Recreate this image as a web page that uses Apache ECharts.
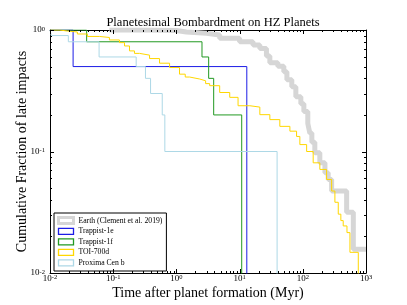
<!DOCTYPE html>
<html><head><meta charset="utf-8">
<script src="https://cdn.jsdelivr.net/npm/echarts@6/dist/echarts.min.js"></script>
<style>html,body{margin:0;padding:0;background:#fff}#c{width:407px;height:305px}</style>
</head><body><div id="c"></div>
<script>
// ---- data ----
const seriesNames = ['Earth (Clement et al. 2019)', 'Trappist-1e', 'Trappist-1f', 'TOI-700d', 'Proxima Cen b'];
const earthT = [0.087, 0.38, 1.0, 1.44, 2.98, 4.84, 10.0, 16.3, 20.9, 26.6, 30.1, 40.3, 50.1, 56.0, 67.0, 77.6, 93.1, 104, 120, 129, 139, 155, 186, 224, 252, 286, 494, 630, 1000];
const earthF = [1.0, 0.99, 0.963, 0.94, 0.91, 0.855, 0.802, 0.754, 0.705, 0.612, 0.537, 0.502, 0.453, 0.389, 0.341, 0.282, 0.247, 0.213, 0.17, 0.142, 0.119, 0.0976, 0.0807, 0.0668, 0.0589, 0.0473, 0.0316, 0.0157, 0.0157];
const t1eT = [0.01, 0.0232, 13.0];
const t1eF = [1.0, 0.5, 0.001];
const t1fT = [0.01, 0.038, 2.54, 3.24, 3.89, 10.8];
const t1fF = [1.0, 0.8, 0.6, 0.4, 0.2, 0.001];
const toiT = [0.01, 0.014, 0.0188, 0.0271, 0.039, 0.0605, 0.0871, 0.1256, 0.151, 0.181, 0.217, 0.261, 0.376, 0.541, 0.78, 1.12, 1.38, 1.62, 2.33, 2.9, 3.36, 4.84, 6.98, 9.45, 14.5, 20.9, 30.1, 43.3, 62.5, 79.7, 89.8, 115, 146, 186, 238, 286, 322, 364, 400, 436, 500, 557, 755];
const toiF = [1.0, 0.981, 0.963, 0.927, 0.885, 0.868, 0.828, 0.787, 0.739, 0.673, 0.642, 0.621, 0.582, 0.533, 0.491, 0.433, 0.41, 0.395, 0.382, 0.362, 0.348, 0.306, 0.279, 0.238, 0.232, 0.201, 0.183, 0.161, 0.147, 0.133, 0.114, 0.1, 0.0807, 0.0712, 0.0589, 0.0473, 0.0382, 0.0305, 0.027, 0.0244, 0.0215, 0.0148, 0.001];
const proxT = [0.01, 0.0105, 0.0195, 0.0598, 0.231, 0.324, 0.39, 0.597, 0.656, 39.2];
const proxF = [1.0, 0.9, 0.8, 0.6, 0.5, 0.4, 0.3, 0.2, 0.1, 0.001];
const xTicks = [0.01, 0.1, 1, 10, 100, 1000];
const yTicks = [0.01, 0.1, 1];
const xTickLabels = ['-2', '-1', '0', '1', '2', '3'];
const yTickLabels = ['-2', '-1', '0'];
const colors = ['#d6d6d6', '#1c1ce6', '#229922', '#ffd700', '#add8e6'];
const widths = [5, 1, 1, 1, 1];

// minor tick values (2..9 per decade)
const mant = [2,3,4,5,6,7,8,9];
const minorX = [], minorY = [];
for (let i = 0; i < xTicks.length - 1; i++) mant.forEach(m => minorX.push(m * xTicks[i]));
for (let i = 0; i < yTicks.length - 1; i++) mant.forEach(m => minorY.push(m * yTicks[i]));

const zip = (a, b) => a.map((v, i) => [v, b[i]]);
const allT = [earthT, t1eT, t1fT, toiT, proxT];
const allF = [earthF, t1eF, t1fF, toiF, proxF];

const FONT = 'Liberation Serif';
function expLabel(list, ticks) {
  return function (v) {
    let idx = 0, best = 1e9;
    ticks.forEach((t, i) => { const d = Math.abs(Math.log10(t) - Math.log10(v)); if (d < best) { best = d; idx = i; } });
    return '{b|10}{s|' + list[idx] + '}';
  };
}
const rich = {
  b: { fontFamily: FONT, fontSize: 9, color: '#000', lineHeight: 9, padding: [5, 0, 0, 0], verticalAlign: 'bottom' },
  s: { fontFamily: FONT, fontSize: 6.5, color: '#000', lineHeight: 7, verticalAlign: 'top' }
};

const chart = echarts.init(document.getElementById('c'), null, { renderer: 'canvas' });

const lineSeries = seriesNames.map((n, i) => ({
  name: n, type: 'line', step: 'end', showSymbol: false, symbol: 'none',
  data: zip(allT[i], allF[i]), clip: true, z: 2 + i,
  lineStyle: { color: colors[i], width: widths[i] },
  itemStyle: { color: colors[i] },
  emphasis: { disabled: true }, animation: false
}));

const tickSeries = {
  type: 'custom', silent: true, z: 20, animation: false, clip: false,
  data: [[1, 0.1]],
  renderItem: function (params, api) {
    const ch = [];
    const bottom = api.coord([1, 0.01])[1], top = api.coord([1, 1])[1];
    const left = api.coord([0.01, 1])[0], right = api.coord([1000, 1])[0];
    const st = { stroke: '#000', lineWidth: 1 };
    const addX = (v, len) => {
      const x = Math.round(api.coord([v, 0.1])[0]) + 0.5;
      ch.push({ type: 'line', shape: { x1: x, y1: bottom, x2: x, y2: bottom - len }, style: st });
      ch.push({ type: 'line', shape: { x1: x, y1: top, x2: x, y2: top + len }, style: st });
    };
    const addY = (v, len) => {
      const y = Math.round(api.coord([1, v])[1]) + 0.5;
      ch.push({ type: 'line', shape: { x1: left, y1: y, x2: left + len, y2: y }, style: st });
      ch.push({ type: 'line', shape: { x1: right, y1: y, x2: right - len, y2: y }, style: st });
    };
    minorX.forEach(v => addX(v, 2));
    minorY.forEach(v => addY(v, 2));
    xTicks.forEach(v => addX(v, 4));
    yTicks.forEach(v => addY(v, 4));
    return { type: 'group', children: ch };
  }
};

const option = {
  animation: false,
  backgroundColor: '#fff',
  title: {
    text: 'Planetesimal Bombardment on HZ Planets', left: 208, top: 11, textAlign: 'center',
    textStyle: { fontFamily: FONT, fontSize: 12.5, fontWeight: 'normal', color: '#000' }
  },
  grid: { left: 50, right: 41, top: 30, bottom: 31, containLabel: false },
  legend: {
    orient: 'vertical', left: 54, top: 213, padding: [3, 4, 4, 3], itemGap: 2.3,
    itemWidth: 15, itemHeight: 6, backgroundColor: '#fff', borderColor: '#000', borderWidth: 1,
    borderRadius: 0, selectedMode: false,
    textStyle: { fontFamily: FONT, fontSize: 7.7, color: '#000', lineHeight: 8.2 },
    data: seriesNames.map((n, i) => ({
      name: n, icon: 'rect',
      itemStyle: { color: '#fff', borderColor: colors[i], borderWidth: i === 0 ? 3 : 1.3 }
    }))
  },
  xAxis: [{
    type: 'log', logBase: 10, min: 0.01, max: 1000, position: 'bottom',
    axisLine: { show: true, lineStyle: { color: '#000', width: 1 } },
    axisTick: { show: false }, splitLine: { show: false }, minorTick: { show: false },
    axisLabel: { margin: 1, formatter: expLabel(xTickLabels, xTicks), rich: rich },
    name: 'Time after planet formation (Myr)', nameLocation: 'middle', nameGap: 13, nameMoveOverlap: false,
    nameTextStyle: { fontFamily: FONT, fontSize: 14, color: '#000' }
  }, {
    type: 'log', logBase: 10, min: 0.01, max: 1000, position: 'top',
    axisLine: { show: true, lineStyle: { color: '#000', width: 1 } },
    axisTick: { show: false }, axisLabel: { show: false }, splitLine: { show: false }
  }],
  yAxis: [{
    type: 'log', logBase: 10, min: 0.01, max: 1, position: 'left',
    axisLine: { show: true, lineStyle: { color: '#000', width: 1 } },
    axisTick: { show: false }, splitLine: { show: false }, minorTick: { show: false },
    axisLabel: { margin: 5, formatter: expLabel(yTickLabels, yTicks), rich: rich },
    name: 'Cumulative Fraction of late impacts', nameLocation: 'middle', nameGap: 21, nameMoveOverlap: false,
    nameTextStyle: { fontFamily: FONT, fontSize: 14, color: '#000' }
  }, {
    type: 'log', logBase: 10, min: 0.01, max: 1, position: 'right',
    axisLine: { show: true, lineStyle: { color: '#000', width: 1 } },
    axisTick: { show: false }, axisLabel: { show: false }, splitLine: { show: false }
  }],
  series: lineSeries.concat([tickSeries])
};
chart.setOption(option);
</script></body></html>
